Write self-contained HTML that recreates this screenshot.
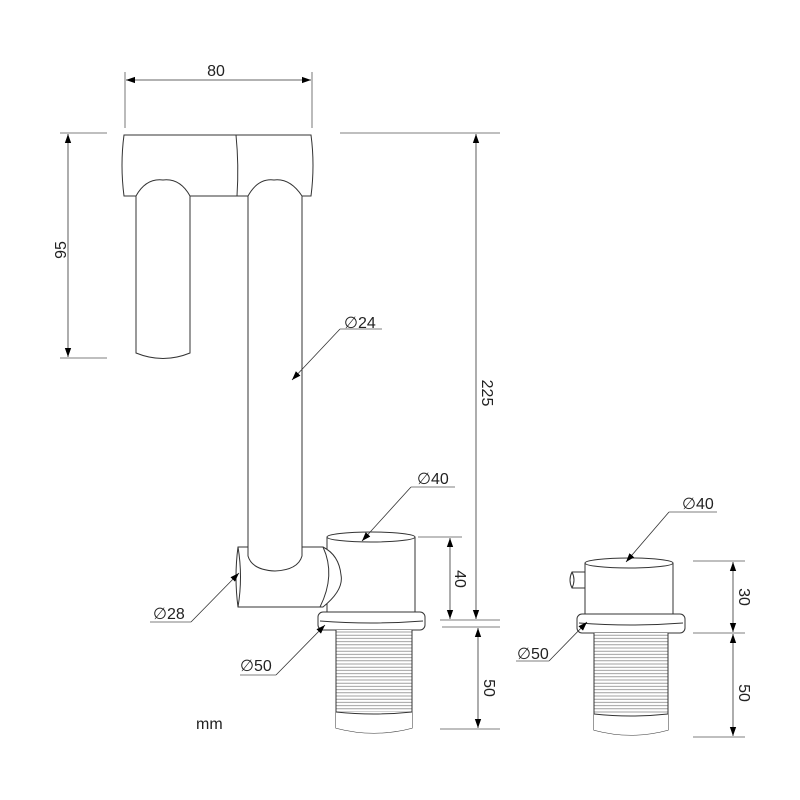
<!DOCTYPE html>
<html><head><style>body{margin:0;background:#fff}svg{display:block}</style></head><body>
<svg width="800" height="800" viewBox="0 0 800 800" xmlns="http://www.w3.org/2000/svg">
<defs>
<marker id="a" viewBox="0 0 10 10" refX="10" refY="5" markerWidth="9" markerHeight="9" orient="auto-start-reverse" markerUnits="userSpaceOnUse"><path d="M0,1.5L10,5L0,8.5z" fill="#000"/></marker>
<pattern id="th" width="10" height="3.2" patternUnits="userSpaceOnUse"><rect width="10" height="3.2" fill="#fff"/><line x1="0" y1="1.6" x2="10" y2="1.6" stroke="#888" stroke-width="0.8"/></pattern>
</defs>
<g fill="none" stroke="#333" stroke-width="1">
<path d="M124,135 L311,135 Q315,165 311,196 L302,196 Q290,178 274,180 Q258,178 248,196 L190,196 Q180,178 163,180 Q146,178 136,196 L124,196 Q120,165 124,135 Z" fill="#fff"/>
<path d="M236,135 Q239,165 237,196"/>
<path d="M136,196 L136,353 Q163,364 190,353 L190,196"/>
<path d="M248,196 L248,548 M302,196 L302,548"/>
<!-- main cylinder -->
<path d="M327,537 L327,612 L415,612 L415,537" fill="#fff"/>
<ellipse cx="371" cy="537" rx="44" ry="5" fill="#fff"/>
<!-- elbow on top -->
<path d="M248,547 L238,547 Q234,577 238,607 L323,607 Q344,590 341,575 Q339,555 323,547 L302,547" fill="#fff"/>
<path d="M248,547 L248,556 Q252,570 275,571 Q298,570 302,556 L302,547" fill="#fff"/>
<path d="M323,547 Q336,575 320,607"/>
<path d="M238,547 Q243,577 238,607"/>
<rect x="318" y="612" width="107" height="18" rx="5" fill="#fff"/>
<path d="M320,621 Q371,625 423,621"/>
<path d="M336,630 L336,728 Q374,738 412,728 L412,630" fill="url(#th)"/>
<path d="M336,712 L336,728 Q374,738 412,728 L412,712 Z" fill="#fff" stroke="none"/>
<path d="M336,712 Q374,716 412,712"/>
<!-- right fixture -->
<path d="M585,563 L585,614 L673,614 L673,563" fill="#fff"/>
<ellipse cx="629" cy="563" rx="44" ry="5" fill="#fff"/>
<path d="M585,572 L572,572 Q568,580 572,588 L585,588"/>
<path d="M572,572 Q576,580 572,588"/>
<rect x="577" y="614" width="108" height="19" rx="5" fill="#fff"/>
<path d="M579,623 Q631,627 683,623"/>
<path d="M594,633 L594,730 Q631,740 668,730 L668,633" fill="url(#th)"/>
<path d="M594,714 L594,730 Q631,740 668,730 L668,714 Z" fill="#fff" stroke="none"/>
<path d="M594,714 Q631,718 668,714"/>
</g>
<g stroke="#555" stroke-width="0.8" fill="none">
<line x1="125" y1="72" x2="125" y2="128"/><line x1="312" y1="72" x2="312" y2="128"/>
<line x1="60" y1="133" x2="107" y2="133"/><line x1="60" y1="358" x2="107" y2="358"/>
<line x1="340" y1="133" x2="500" y2="133"/>
<line x1="418" y1="537" x2="462" y2="537"/><line x1="440" y1="620" x2="500" y2="620"/>
<line x1="442" y1="627" x2="500" y2="627"/><line x1="440" y1="729" x2="500" y2="729"/>
<line x1="693" y1="561" x2="745" y2="561"/><line x1="693" y1="633" x2="745" y2="633"/><line x1="693" y1="737" x2="745" y2="737"/>
<path d="M340,329 L382,329"/><path d="M411,487 L455,487"/><path d="M150,622 L191,622"/><path d="M240,675 L276,675"/><path d="M669,512 L717,512"/><path d="M516,661 L549,661"/>
</g>
<g stroke="#333" stroke-width="0.8" fill="none" marker-end="url(#a)">
<line x1="126" y1="80" x2="311" y2="80" marker-start="url(#a)"/>
<line x1="68" y1="134" x2="68" y2="357" marker-start="url(#a)"/>
<line x1="476" y1="134" x2="476" y2="619" marker-start="url(#a)"/>
<line x1="450" y1="538" x2="450" y2="619" marker-start="url(#a)"/>
<line x1="478" y1="628" x2="478" y2="728" marker-start="url(#a)"/>
<line x1="733" y1="562" x2="733" y2="632" marker-start="url(#a)"/>
<line x1="733" y1="634" x2="733" y2="736" marker-start="url(#a)"/>
<line x1="340" y1="329" x2="292" y2="380"/>
<line x1="411" y1="487" x2="362" y2="541"/>
<line x1="191" y1="622" x2="239" y2="573"/>
<line x1="276" y1="675" x2="325" y2="625"/>
<line x1="669" y1="512" x2="626" y2="562"/>
<line x1="549" y1="661" x2="587" y2="622"/>
</g>
<g font-family="Liberation Sans, sans-serif" font-size="16" fill="#222">
<text x="216" y="76" text-anchor="middle">80</text>
<text text-anchor="middle" transform="translate(66,250) rotate(-90)">95</text>
<text transform="translate(482,393) rotate(90)" text-anchor="middle">225</text>
<text transform="translate(455,579) rotate(90)" text-anchor="middle">40</text>
<text transform="translate(484,688) rotate(90)" text-anchor="middle">50</text>
<text transform="translate(739,597) rotate(90)" text-anchor="middle">30</text>
<text transform="translate(739,693) rotate(90)" text-anchor="middle">50</text>
<text x="344" y="328">∅24</text>
<text x="417" y="484">∅40</text>
<text x="153" y="619">∅28</text>
<text x="240" y="671">∅50</text>
<text x="682" y="509">∅40</text>
<text x="517" y="659">∅50</text>
<text x="196" y="729">mm</text>
</g>
</svg>
</body></html>
